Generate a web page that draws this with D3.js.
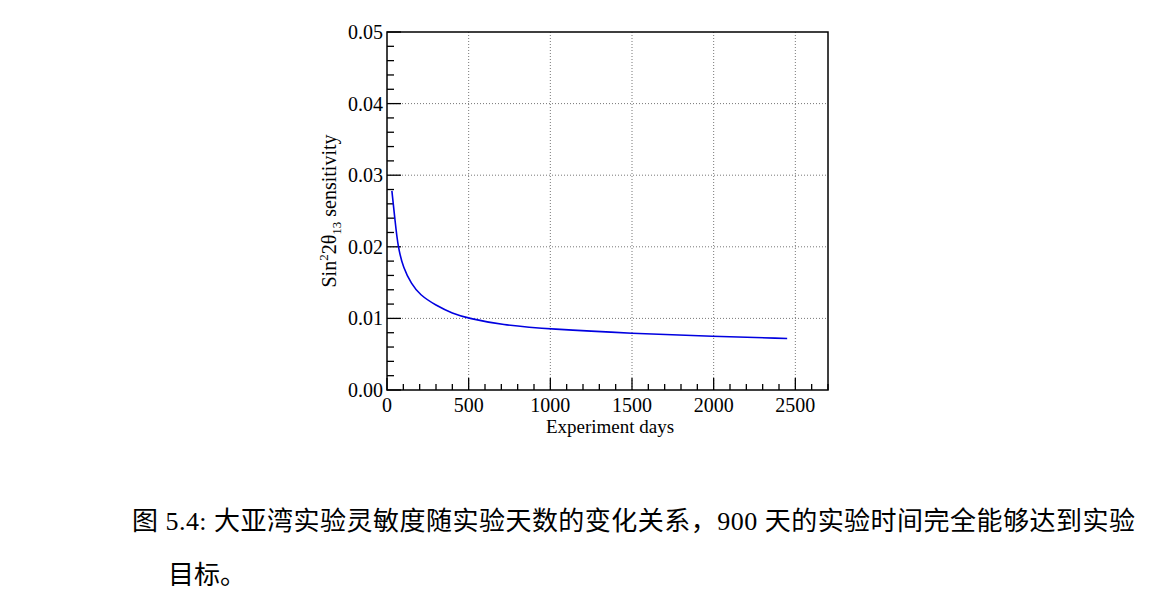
<!DOCTYPE html>
<html><head><meta charset="utf-8">
<script src="https://cdn.jsdelivr.net/npm/d3@7"></script>
<style>body{margin:0;background:#fff}</style>
</head><body>
<svg id="c" width="1159" height="605"></svg>
<script>
// sensitivity vs experiment days
const days = [30, 50, 67, 100, 150, 200, 300, 400, 500, 700, 1000, 1500, 2000, 2450]
const sens = [0.0278, 0.0235, 0.0200, 0.0170, 0.0148, 0.0133, 0.0118, 0.0107, 0.0100, 0.0091, 0.0085, 0.0079, 0.0075, 0.0072]
const xTicks = [0, 500, 1000, 1500, 2000, 2500]
const yTicks = [0, 0.01, 0.02, 0.03, 0.04, 0.05]

const svg = d3.select('#c')
const x = d3.scaleLinear().domain([0, 2700]).range([387, 828])
const y = d3.scaleLinear().domain([0, 0.05]).range([390, 32])
const serif = 'Liberation Serif, Times New Roman, serif'

// grid
svg.selectAll('.gx').data(xTicks.slice(1)).enter().append('line')
  .attr('x1', d => x(d)).attr('x2', d => x(d)).attr('y1', 32).attr('y2', 390)
  .attr('stroke', '#777').attr('stroke-dasharray', '1,2')
svg.selectAll('.gy').data(yTicks.slice(1, -1)).enter().append('line')
  .attr('y1', d => y(d)).attr('y2', d => y(d)).attr('x1', 387).attr('x2', 828)
  .attr('stroke', '#777').attr('stroke-dasharray', '1,2')

// frame
svg.append('rect').attr('x', 387).attr('y', 32).attr('width', 441).attr('height', 358)
  .attr('fill', 'none').attr('stroke', '#000').attr('stroke-width', 1.5)

// minor/major ticks inside
const xMin = d3.range(0, 2701, 100)
svg.selectAll('.tx').data(xMin).enter().append('line')
  .attr('x1', d => x(d)).attr('x2', d => x(d)).attr('y1', 390)
  .attr('y2', d => d % 500 === 0 ? 378 : 384).attr('stroke', '#000').attr('stroke-width', 1.3)
const yMin = d3.range(0, 0.0501, 0.002)
svg.selectAll('.ty').data(yMin).enter().append('line')
  .attr('y1', d => y(d)).attr('y2', d => y(d)).attr('x1', 387)
  .attr('x2', d => Math.abs(d * 100 - Math.round(d * 100)) < 1e-6 ? 401 : 394).attr('stroke', '#000').attr('stroke-width', 1.3)

svg.selectAll('.lx').data(xTicks).enter().append('text')
  .attr('x', d => x(d)).attr('y', 412).attr('text-anchor', 'middle')
  .attr('font-family', serif).attr('font-size', 20).text(d => d)
svg.selectAll('.ly').data(yTicks).enter().append('text')
  .attr('x', 383).attr('y', d => y(d) + 7).attr('text-anchor', 'end')
  .attr('font-family', serif).attr('font-size', 20).text(d => d.toFixed(2))

svg.append('text').attr('x', 610).attr('y', 433).attr('text-anchor', 'middle')
  .attr('font-family', serif).attr('font-size', 19).text('Experiment days')

const yl = svg.append('text').attr('transform', 'translate(336,211) rotate(-90)')
  .attr('text-anchor', 'middle').attr('font-family', serif).attr('font-size', 20)
yl.append('tspan').text('Sin')
yl.append('tspan').attr('font-size', 13).attr('dy', -8).text('2')
yl.append('tspan').attr('dy', 8).text('2θ')
yl.append('tspan').attr('font-size', 13).attr('dy', 5).text('13')
yl.append('tspan').attr('dy', -5).text(' sensitivity')

svg.append('path').datum(days.map((d, i) => [d, sens[i]]))
  .attr('d', d3.line().x(d => x(d[0])).y(d => y(d[1])).curve(d3.curveBasis))
  .attr('fill', 'none').attr('stroke', '#0000e0').attr('stroke-width', 1.6)

const cjk = 'Liberation Serif, Noto Sans CJK SC, serif'
svg.append('text').attr('x', 132).attr('y', 530).attr('font-family', cjk).attr('font-size', 26)
  .attr('textLength', 1003).attr('lengthAdjust', 'spacing')
  .text('图 5.4: 大亚湾实验灵敏度随实验天数的变化关系，900 天的实验时间完全能够达到实验')
svg.append('text').attr('x', 168).attr('y', 584).attr('font-family', cjk).attr('font-size', 26)
  .text('目标。')
</script>
</body></html>
